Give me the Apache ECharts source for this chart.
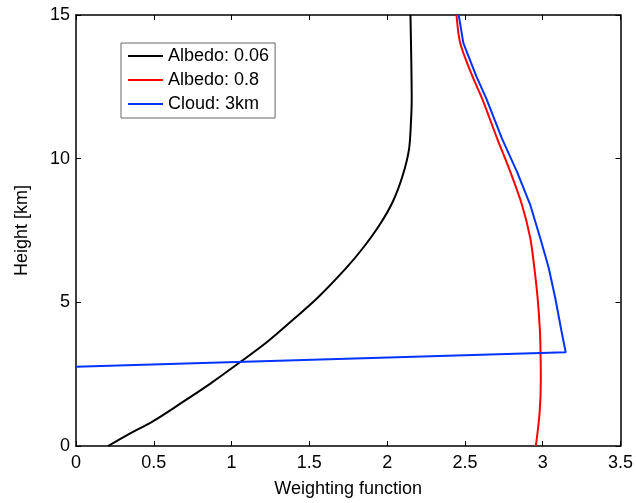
<!DOCTYPE html>
<html>
<head>
<meta charset="utf-8">
<script src="https://cdn.jsdelivr.net/npm/echarts@6/dist/echarts.min.js"></script>
<style>
  html, body { margin: 0; padding: 0; background: #fff; }
  #chart { width: 636px; height: 503px; }
</style>
</head>
<body>
<div id="chart"></div>
<script>
// weighting function vs height [km]
const albedoLowW = [0.206, 0.334, 0.494, 0.675, 0.866, 1.058, 1.228, 1.40, 1.555, 1.739, 1.846, 1.952, 2.037, 2.101, 2.141, 2.154, 2.158, 2.155, 2.15];
const albedoLowH = [0, 0.40, 0.86, 1.49, 2.18, 2.93, 3.62, 4.42, 5.17, 6.21, 6.90, 7.70, 8.51, 9.43, 10.34, 11.38, 12.07, 13.5, 15];

const albedoHighW = [2.446, 2.47, 2.548, 2.612, 2.708, 2.792, 2.867, 2.920, 2.946, 2.967, 2.982, 2.986, 2.988, 2.98, 2.956];
const albedoHighH = [15, 14.02, 12.87, 12.07, 10.69, 9.54, 8.39, 7.24, 6.21, 5.17, 4.02, 3.26, 2.3, 1.15, 0];

const cloudW = [2.46, 2.49, 2.573, 2.639, 2.739, 2.835, 2.920, 2.984, 3.038, 3.08, 3.12, 3.148, 0];
const cloudH = [15, 14.02, 12.87, 12.07, 10.69, 9.54, 8.39, 7.24, 6.21, 5.17, 4.02, 3.26, 2.76];

const seriesNames = ['Albedo: 0.06', 'Albedo: 0.8', 'Cloud: 3km'];
const seriesColors = ['#000000', '#ff0000', '#0033ff'];

const pairs = (w, h) => w.map((v, i) => [v, h[i]]);

const font = '"Liberation Sans", Arial, sans-serif';
const axisLine = { show: true, onZero: false, lineStyle: { color: '#000', width: 1.5 } };
const tickIn = { show: true, inside: true, length: 5, lineStyle: { color: '#000', width: 1 } };

const chart = echarts.init(document.getElementById('chart'));

chart.setOption({
  animation: false,
  backgroundColor: '#fff',
  grid: { left: 76, right: 12, top: 15, bottom: 53 },
  legend: {
    orient: 'vertical',
    left: 121,
    top: 43,
    padding: [3, 6, 4, 7],
    icon: 'rect',
    itemWidth: 35,
    itemHeight: 2,
    itemGap: 4,
    borderColor: '#666',
    borderWidth: 1,
    backgroundColor: '#fff',
    textStyle: { fontFamily: font, fontSize: 18, color: '#000', lineHeight: 20 },
    data: seriesNames
  },
  xAxis: [
    {
      type: 'value', min: 0, max: 3.5, interval: 0.5,
      name: 'Weighting function', nameLocation: 'middle', nameGap: 34,
      nameTextStyle: { fontFamily: font, fontSize: 18, color: '#000' },
      axisLine: axisLine, axisTick: tickIn, splitLine: { show: false },
      axisLabel: { fontFamily: font, fontSize: 18, color: '#000', margin: 8 }
    },
    {
      type: 'value', min: 0, max: 3.5, interval: 0.5, position: 'top',
      axisLine: axisLine, axisTick: tickIn, splitLine: { show: false },
      axisLabel: { show: false }
    }
  ],
  yAxis: [
    {
      type: 'value', min: 0, max: 15, interval: 5,
      name: 'Height [km]', nameLocation: 'middle', nameGap: 45,
      nameTextStyle: { fontFamily: font, fontSize: 18, color: '#000' },
      axisLine: axisLine, axisTick: tickIn, splitLine: { show: false },
      axisLabel: { fontFamily: font, fontSize: 18, color: '#000', margin: 6 }
    },
    {
      type: 'value', min: 0, max: 15, interval: 5, position: 'right',
      axisLine: axisLine, axisTick: tickIn, splitLine: { show: false },
      axisLabel: { show: false }
    }
  ],
  series: [
    {
      name: seriesNames[0], type: 'line', symbol: 'none', smooth: 0.3,
      data: pairs(albedoLowW, albedoLowH),
      lineStyle: { color: seriesColors[0], width: 2 }, itemStyle: { color: seriesColors[0] }
    },
    {
      name: seriesNames[1], type: 'line', symbol: 'none', smooth: 0.3,
      data: pairs(albedoHighW, albedoHighH),
      lineStyle: { color: seriesColors[1], width: 2 }, itemStyle: { color: seriesColors[1] }
    },
    {
      name: seriesNames[2], type: 'line', symbol: 'none', smooth: false,
      data: pairs(cloudW, cloudH),
      lineStyle: { color: seriesColors[2], width: 2 }, itemStyle: { color: seriesColors[2] }
    }
  ]
});
</script>
</body>
</html>
